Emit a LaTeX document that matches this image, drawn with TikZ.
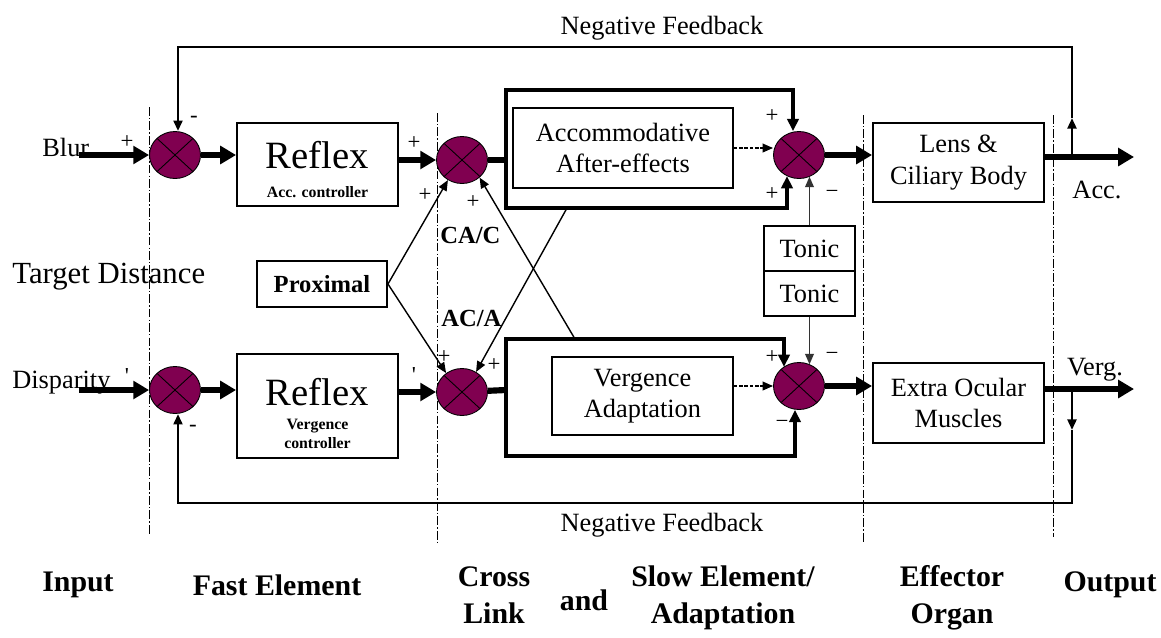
\documentclass[tikz,border=0pt]{standalone}
\usepackage{fontspec}
\setmainfont{Liberation Serif}
\usetikzlibrary{shapes.geometric,arrows.meta}
\definecolor{sumpurple}{RGB}{128,0,80}

\tikzset{
  sumnode/.style={ellipse, draw=black, line width=0.5pt, fill=sumpurple,
    minimum width=1.02cm, minimum height=0.94cm, inner sep=0pt,
    path picture={\draw[line width=0.5pt]
      (path picture bounding box.north west) -- (path picture bounding box.south east)
      (path picture bounding box.south west) -- (path picture bounding box.north east);}},
  blockbox/.style={draw, line width=1.1pt, fill=white, align=center, inner sep=0pt,
    font=\fontsize{15}{18}\selectfont},
  mainarrow/.style={line width=3.5pt, -{Triangle[length=9pt,width=10pt]}},
  slowline/.style={line width=2.2pt, line join=miter},
  slowarrow/.style={slowline, -{Triangle[length=7pt,width=6.5pt]}},
  thinarrow/.style={line width=0.8pt, -{Triangle[length=6pt,width=5pt]}},
  dotarrow/.style={line width=0.9pt, dash pattern=on 2pt off 1pt, -{Triangle[length=6pt,width=5pt]}},
  fbline/.style={line width=1.5pt, line join=miter},
  fbarrow/.style={fbline, -{Triangle[length=6pt,width=5pt]}},
  zoneline/.style={line width=0.5pt, dash pattern=on 5pt off 1.2pt on 0.8pt off 1.2pt},
  signlbl/.style={inner sep=0pt, font=\fontsize{13}{13}\selectfont},
  textlbl/.style={inner sep=0pt, font=\fontsize{15}{18}\selectfont},
  steplbl/.style={inner sep=0pt, align=center, font=\bfseries\fontsize{17}{21}\selectfont},
}
\newcommand{\smallctl}{\bfseries\fontsize{9}{10.5}\selectfont}
\newcommand{\bigreflex}{\fontsize{22}{24}\selectfont}

\begin{document}
\begin{tikzpicture}[x=0.02cm, y=-0.02cm]
        \fill[white] (0,0) rectangle (1161,637);

        % Draw the zone borders
        \draw[zoneline] (149,107) -- (149,535);
        \draw[zoneline] (437,113) -- (437,542);
        \draw[zoneline] (863,115) -- (863,542);
        \draw[zoneline] (1053,115) -- (1053,537);

        % Summing junctions
        \node[sumnode] (sA1) at (175,155) {};
        \node[sumnode] (sV1) at (175,390) {};
        \node[sumnode] (sA2) at (462,160) {};
        \node[sumnode] (sV2) at (462,392) {};
        \node[sumnode] (sA3) at (799,155) {};
        \node[sumnode] (sV3) at (799,386) {};

        % Blocks
        \node[blockbox, minimum width=3.22cm, minimum height=1.66cm] (refA) at (317.5,164.5)
          {{\bigreflex\rule{0pt}{21pt}Reflex}\\[-1.5pt]{\smallctl Acc. controller}};
        \node[blockbox, minimum width=3.22cm, minimum height=2.08cm] (refV) at (317.5,406)
          {{\bigreflex\rule{0pt}{24pt}Reflex}\\[-4.5pt]{\smallctl Vergence}\\[-7.5pt]{\smallctl controller}};
        \node[blockbox, minimum width=4.4cm, minimum height=1.6cm] (aae) at (623,148) {Accommodative\\After-effects};
        \node[blockbox, minimum width=3.62cm, minimum height=1.56cm] (verad) at (642.5,396) {Vergence\\Adaptation};
        \node[blockbox, minimum width=1.82cm, minimum height=0.9cm] (tonA) at (809.5,248.5) {Tonic};
        \node[blockbox, minimum width=1.82cm, minimum height=0.9cm] (tonV) at (809.5,293.5) {Tonic};
        \node[blockbox, minimum width=3.42cm, minimum height=1.58cm] (lens) at (958.5,162.5) {Lens \&\\Ciliary Body};
        \node[blockbox, minimum width=3.42cm, minimum height=1.6cm] (eom) at (958.5,403) {Extra Ocular\\Muscles};
        \node[blockbox, minimum width=2.6cm, minimum height=0.92cm, font=\bfseries\fontsize{14}{16}\selectfont] (prox) at (322,284) {Proximal};

        % Free ends of the connectors
        \coordinate (blurin) at (79,155);
        \coordinate (dispin) at (79,390);
        \coordinate (aj) at (506,160);
        \coordinate (aTR) at (793,90);
        \coordinate (aBR) at (787,208);
        \coordinate (vj) at (506,390);
        \coordinate (vTR) at (784,339);
        \coordinate (vBR) at (795,456);
        \coordinate (cacfoot) at (575,339);
        \coordinate (acafoot) at (567,208);
        \coordinate (accout) at (1134,157);
        \coordinate (accbr) at (1072,157);
        \coordinate (accup) at (1072,118);
        \coordinate (fbtopR) at (1072,47);
        \coordinate (fbtopL) at (178,47);
        \coordinate (vergout) at (1134,389);
        \coordinate (vergbr) at (1072,389);
        \coordinate (vergdn) at (1072,430);
        \coordinate (fbbotR) at (1072,503);
        \coordinate (fbbotL) at (178,503);

        % Accommodation path
        \draw[mainarrow] (blurin) -- (sA1);
        \draw[mainarrow] (sA1) -- (refA.west |- sA1);
        \draw[mainarrow] (refA.east |- sA2) -- (sA2);
        \draw[line width=3.5pt] (sA2) -- (aj);
        \draw[slowarrow] (aj) |- (aTR) -- (aTR |- sA3.north);
        \draw[slowarrow] (aj) |- (aBR) -- (aBR |- sA3.-120);
        \draw[dotarrow] (aae.east) -- (aae.east -| sA3.west);
        \draw[mainarrow] (sA3) -- (sA3 -| lens.west);
        \draw[mainarrow] (lens.east |- accout) -- (accout);

        % Vergence path
        \draw[mainarrow] (dispin) -- (sV1);
        \draw[mainarrow] (sV1) -- (refV.west |- sV1);
        \draw[mainarrow] (refV.east |- sV2) -- (sV2);
        \draw[line width=3.5pt] (sV2) -- (vj);
        \draw[slowarrow] (vj) |- (vTR) -- (vTR |- sV3.129);
        \draw[slowarrow] (vj) |- (vBR) -- (vBR |- sV3.south);
        \draw[dotarrow] (verad.east |- sV3) -- (sV3);
        \draw[mainarrow] (sV3) -- (sV3 -| eom.west);
        \draw[mainarrow] (eom.east |- vergout) -- (vergout);

        % Tonic inputs
        \draw[thinarrow, draw=black!80] (tonA.north) -- (tonA.north |- sA3.-63);
        \draw[thinarrow, draw=black!80] (tonV.south) -- (tonV.south |- sV3.63);

        % Proximal and cross links
        \draw[thinarrow] (prox.east) -- (sA2.-125);
        \draw[thinarrow] (prox.east) -- (sV2.130);
        \draw[thinarrow] (cacfoot) -- (sA2.-45);
        \draw[thinarrow] (acafoot) -- (sV2.55);

        % Negative feedback loops
        \draw[fbarrow] (accbr) -- (accup);
        \draw[fbarrow] (accup) -- (fbtopR) -- (fbtopL) -- (fbtopL |- sA1.north);
        \draw[fbarrow] (vergbr) -- (vergdn);
        \draw[fbarrow] (vergdn) -- (fbbotR) -- (fbbotL) -- (fbbotL |- sV1.south);

        % Label the inputs and outputs
        \node[textlbl, anchor=base west] (blur) at (42,156) {Blur};
        \node[textlbl, anchor=base west] (disp) at (12,388) {Disparity};
        \node[inner sep=0pt, anchor=west, font=\fontsize{17.5}{19}\selectfont] (tdist) at (12,277) {Target Distance};
        \node[textlbl] (acc) at (1097,190) {Acc.};
        \node[textlbl] (verg) at (1095,370) {Verg.};
        \node[textlbl] (nfTop) at (662,28) {Negative Feedback};
        \node[textlbl] (nfBot) at (662,525) {Negative Feedback};
        \node[inner sep=0pt, anchor=west, font=\bfseries\fontsize{14}{16}\selectfont] (cac) at (440,235) {CA/C};
        \node[inner sep=0pt, anchor=west, font=\bfseries\fontsize{14}{16}\selectfont] (aca) at (441,318) {AC/A};

        % Label the signs
        \node[signlbl] (pA1) at (127,142) {+};
        \node[signlbl] (mA1) at (194,119) {-};
        \node[signlbl] (pA2a) at (414,143) {+};
        \node[signlbl] (pA2b) at (425,195) {+};
        \node[signlbl] (pA2c) at (473,202) {+};
        \node[signlbl] (pA3a) at (772,116) {+};
        \node[signlbl] (pA3b) at (772,194) {+};
        \node[signlbl] (mA3) at (832,194) {−};
        \node[signlbl] (tV1) at (127,376) {\textquotesingle};
        \node[signlbl] (mV1) at (193,428) {-};
        \node[signlbl] (tV2) at (414,375) {\textquotesingle};
        \node[signlbl] (pV2a) at (444,357) {+};
        \node[signlbl] (pV2b) at (494,365) {+};
        \node[signlbl] (pV3) at (772,357) {+};
        \node[signlbl] (mV3a) at (832,356) {−};
        \node[signlbl] (mV3b) at (782,424) {−};

        % Label the stages
        \node[steplbl] (stIn) at (78,585) {Input};
        \node[steplbl] (stFast) at (277,585) {Fast Element};
        \node[steplbl] (stCross) at (494,595) {Cross\\Link};
        \node[steplbl] (stAnd) at (584,600) {and};
        \node[steplbl] (stSlow) at (723,598) {Slow Element/\\Adaptation};
        \node[steplbl] (stEff) at (952,598) {Effector\\Organ};
        \node[steplbl] (stOut) at (1110,585) {Output};
    \end{tikzpicture}
\end{document}
